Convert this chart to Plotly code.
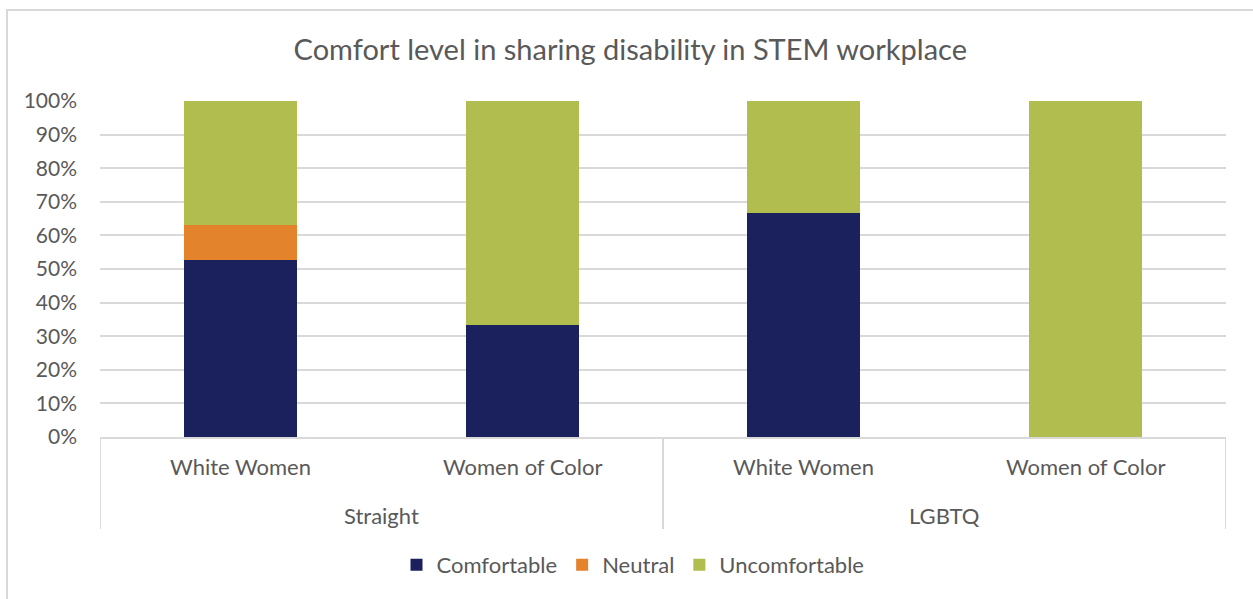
import plotly.graph_objects as go

# Category structure: orientation group and sub-group
groups = ["Straight", "Straight", "LGBTQ", "LGBTQ"]
subgroups = ["White Women", "Women of Color", "White Women", "Women of Color"]

# Share of respondents (fractions)
comfortable = [10 / 19, 1 / 3, 2 / 3, 0.0]
neutral = [2 / 19, 0.0, 0.0, 0.0]
uncomfortable = [7 / 19, 2 / 3, 1 / 3, 1.0]

series = [
    ("Comfortable", comfortable, "#1b215c"),
    ("Neutral", neutral, "#e3832c"),
    ("Uncomfortable", uncomfortable, "#b1bd4e"),
]

FONT = "Lato, Carlito, Calibri, sans-serif"
TEXT = "#595959"
GRID = "#d9d9d9"

positions = list(range(len(subgroups)))

fig = go.Figure()
for name, vals, color in series:
    fig.add_trace(go.Bar(
        x=positions, y=vals, name=name, width=0.4,
        marker=dict(color=color, line=dict(width=0)),
    ))

W, H = 1253, 599
L, R, T, B = 100, 27, 101, 162
pw, ph = W - L - R, H - T - B


def px(x):
    return (x - L) / pw


def py(y):
    return (H - B - y) / ph


annotations = []
# inner row: sub-group labels
for pos, lab in zip(positions, subgroups):
    annotations.append(dict(x=pos, xref="x", y=py(467), yref="paper",
                            text=lab, showarrow=False, yanchor="middle",
                            font=dict(size=22, color=TEXT, family=FONT)))
# outer row: group labels centred under their members, with dividers
shapes = []
order = []
for g in groups:
    if g not in order:
        order.append(g)
for g in order:
    idx = [p for p, gg in zip(positions, groups) if gg == g]
    annotations.append(dict(x=sum(idx) / len(idx), xref="x", y=py(515),
                            yref="paper", text=g, showarrow=False,
                            yanchor="middle",
                            font=dict(size=22, color=TEXT, family=FONT)))
bounds = sorted({min(p for p, gg in zip(positions, groups) if gg == g) - 0.5
                 for g in order} | {max(positions) + 0.5})
for b in bounds:
    shapes.append(dict(type="line", xref="x", yref="paper", x0=b, x1=b,
                       y0=0, y1=py(529), line=dict(color=GRID, width=2)))

# chart frame
shapes.append(dict(type="rect", xref="paper", yref="paper",
                   x0=px(7), x1=px(1262), y0=py(610), y1=py(10),
                   line=dict(color=GRID, width=2), fillcolor="rgba(0,0,0,0)",
                   layer="below"))

fig.update_layout(
    width=W, height=H,
    margin=dict(l=L, r=R, t=T, b=B),
    barmode="stack",
    paper_bgcolor="white", plot_bgcolor="white",
    font=dict(family=FONT, color=TEXT, size=22),
    title=dict(text="Comfort level in sharing disability in STEM workplace",
               x=0.503, xanchor="center", y=1 - 50 / H, yanchor="middle",
               font=dict(size=29, color=TEXT, family=FONT)),
    legend=dict(orientation="h", x=px(633), xanchor="center",
                y=py(565), yanchor="middle",
                font=dict(size=22, color=TEXT), itemwidth=30,
                traceorder="normal"),
    xaxis=dict(range=[-0.5, 3.5], showline=True, linecolor=GRID,
               linewidth=2, ticks="", showticklabels=False,
               showgrid=False, zeroline=False, fixedrange=True),
    yaxis=dict(range=[0, 1], tickformat=".0%", dtick=0.1,
               gridcolor=GRID, gridwidth=2, zeroline=False,
               showline=False, ticks="", ticklabelstandoff=22,
               tickfont=dict(size=21, color=TEXT)),
    annotations=annotations,
    shapes=shapes,
)

fig.write_html("out.html")
